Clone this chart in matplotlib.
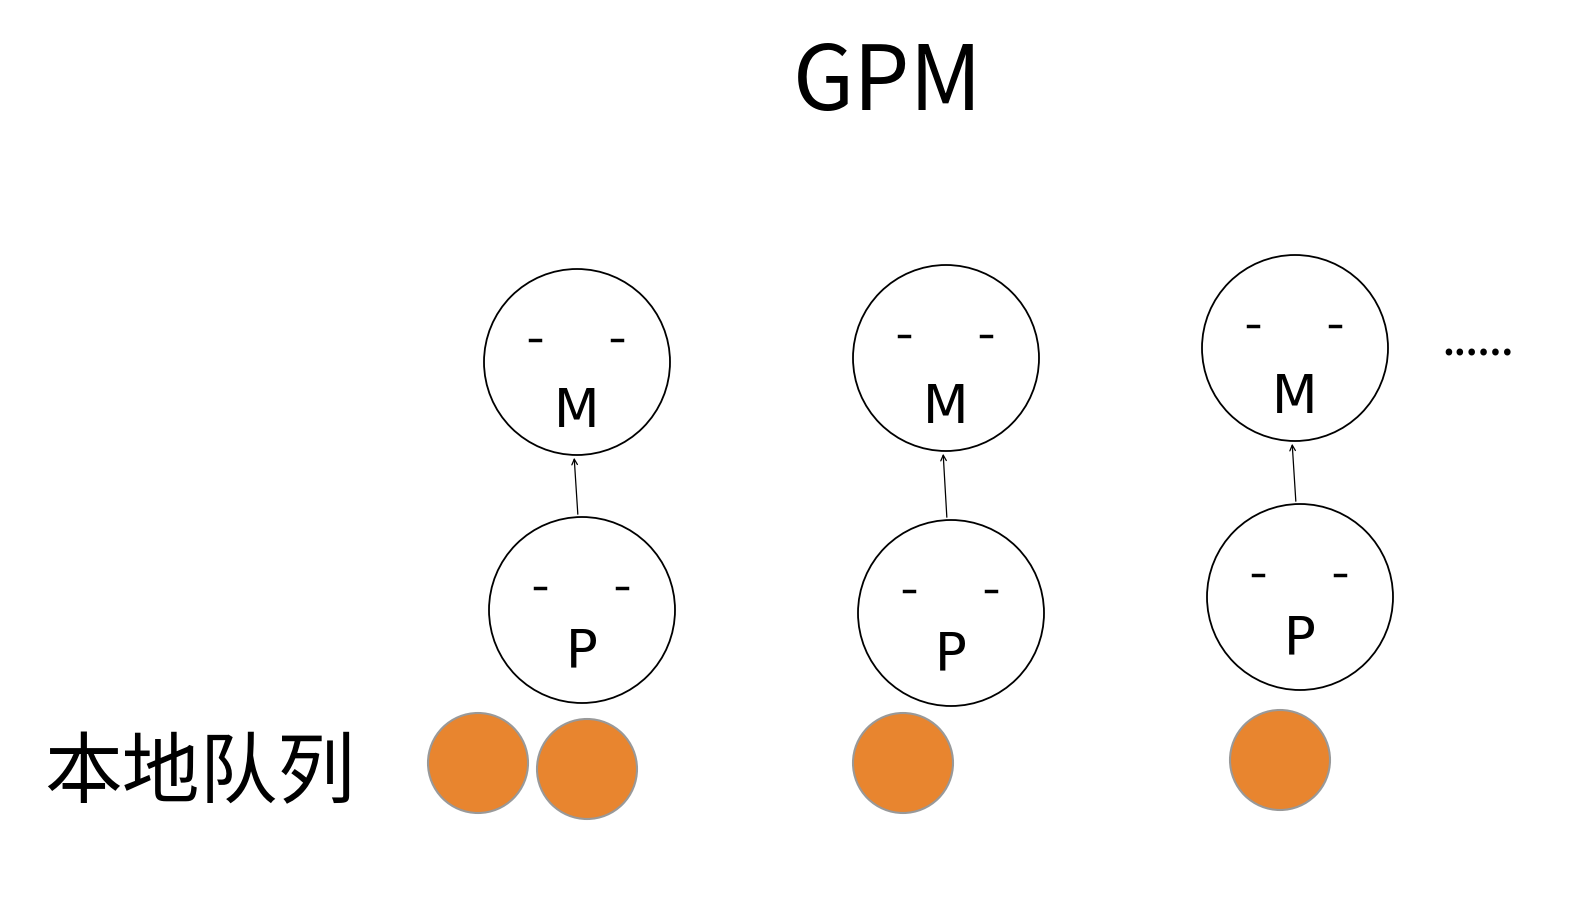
import matplotlib.pyplot as plt
from matplotlib.patches import Circle

plt.rcParams['font.family'] = ['Noto Sans CJK SC', 'DejaVu Sans']

# node positions in pixel space (x, y)
m_nodes = [(577, 362), (946, 358), (1295, 348)]
p_nodes = [(582, 610), (951, 613), (1300, 597)]
balls = [(478, 763), (587, 769), (903, 763), (1280, 760)]
node_r = 93
ball_r = 50

fig = plt.figure(figsize=(15.84, 9.02), dpi=100)
ax = fig.add_axes([0, 0, 1, 1])
ax.set_xlim(0, 1584)
ax.set_ylim(902, 0)
ax.axis("off")


def draw_node(x, y, letter, ly):
    ax.add_patch(Circle((x, y), node_r, fill=False, ec="black", lw=1.3))
    for dx in (-42, 40):
        ax.plot([x + dx - 5, x + dx + 5], [y - 22, y - 22], color="black", lw=2.5)
    ax.text(x, y + ly, letter, ha="center", va="center", fontsize=38,
            family="DejaVu Sans")


for (mx, my), (px, py) in zip(m_nodes, p_nodes):
    draw_node(mx, my, "M", 50)
    draw_node(px, py, "P", 42)
    ax.annotate("", xy=(mx - 3, my + node_r), xytext=(px - 4, py - node_r),
                arrowprops=dict(arrowstyle="->", color="black", lw=0.9))

for bx, by in balls:
    ax.add_patch(Circle((bx, by), ball_r, fc="#E8852F", ec="#999999", lw=1.5))

ax.text(888, 85, "GPM", ha="center", va="center", fontsize=64)
ax.text(200, 775, "本地队列", ha="center", va="center", fontsize=56)
ax.text(1478, 345, "......", ha="center", va="center", fontsize=26,
        fontweight="bold")

fig.savefig("out.png", dpi=100)
